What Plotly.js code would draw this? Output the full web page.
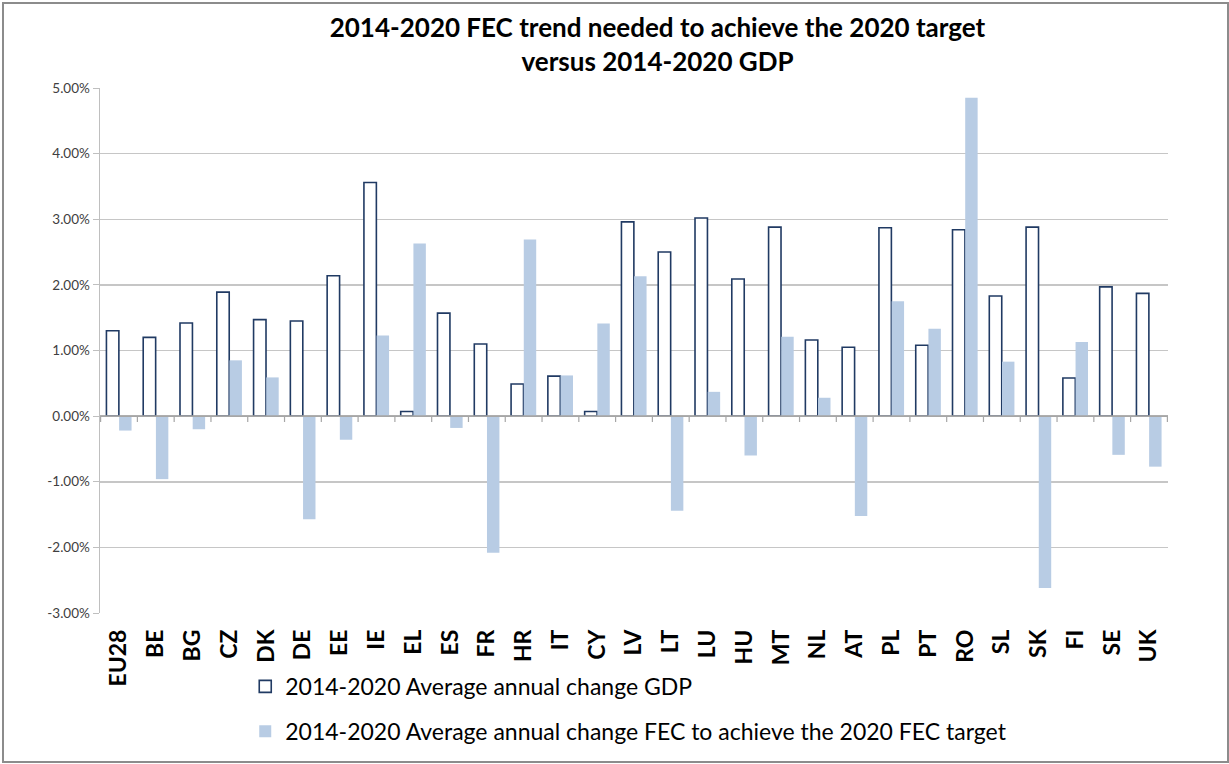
<!DOCTYPE html>
<html>
<head>
<meta charset="utf-8">
<script src="https://cdn.plot.ly/plotly-3.0.1.min.js"></script>
<style>
  html, body { margin: 0; padding: 0; background: #ffffff; }
  #frame { position: absolute; left: 2px; top: 2px; width: 1223px; height: 757px; border: 2px solid #8c8c8c; }
  #chart { position: absolute; left: 0; top: 0; width: 1229px; height: 764px; }
</style>
</head>
<body>
<div id="chart"></div>
<div id="frame"></div>
<script>
const categories = ['EU28','BE','BG','CZ','DK','DE','EE','IE','EL','ES','FR','HR','IT','CY','LV','LT','LU','HU','MT','NL','AT','PL','PT','RO','SL','SK','FI','SE','UK'];
const gdpChange = [1.30,1.20,1.42,1.89,1.47,1.45,2.14,3.56,0.07,1.57,1.10,0.49,0.61,0.07,2.96,2.50,3.02,2.09,2.88,1.16,1.05,2.87,1.08,2.84,1.83,2.88,0.58,1.97,1.87];
const fecChange = [-0.22,-0.96,-0.20,0.85,0.59,-1.57,-0.36,1.23,2.63,-0.18,-2.08,2.69,0.62,1.41,2.13,-1.44,0.37,-0.60,1.21,0.28,-1.52,1.75,1.33,4.85,0.83,-2.62,1.13,-0.59,-0.77];
const seriesNames = ['2014-2020 Average annual change GDP','2014-2020 Average annual change FEC to achieve the 2020 FEC target'];
const yTicks = [-3,-2,-1,0,1,2,3,4,5];
const yTickText = yTicks.map(v => v.toFixed(2) + '%');

const FONT = 'Lato, "Open Sans", "Liberation Sans", sans-serif';

const traces = [
  {
    type: 'bar', name: seriesNames[0], x: categories, y: gdpChange, legendgroup: 'g1',
    marker: { color: '#ffffff', line: { color: '#203a63', width: 1.6 } },
    hoverinfo: 'x+y'
  },
  {
    type: 'bar', name: seriesNames[1], x: categories, y: fecChange, legendgroup: 'g2',
    marker: { color: '#b8cce4', line: { width: 0 } },
    hoverinfo: 'x+y'
  }
];

// small tick marks between categories on the zero line (Excel-style axis)
const shapes = [];
for (let i = 0; i <= categories.length; i++) {
  shapes.push({
    type: 'line', xref: 'x', yref: 'y',
    x0: i - 0.5, x1: i - 0.5, y0: 0, y1: -0.09,
    line: { color: '#a6a6a6', width: 1.2 }
  });
}
shapes.push({
  type: 'line', xref: 'paper', yref: 'y', x0: 0, x1: 1, y0: 0, y1: 0,
  line: { color: '#a6a6a6', width: 1.6 }, layer: 'above'
});

const layout = {
  width: 1229, height: 764,
  margin: { l: 100, r: 61, t: 88, b: 151, autoexpand: false },
  paper_bgcolor: '#ffffff', plot_bgcolor: '#ffffff',
  font: { family: FONT, color: '#000000' },
  title: {
    text: '<b>2014-2020 FEC trend needed to achieve the 2020 target<br>versus 2014-2020 GDP</b>',
    x: 0.535, xref: 'container', xanchor: 'center',
    y: 0.951, yref: 'container', yanchor: 'top',
    font: { family: FONT, size: 26, color: '#000000' }
  },
  barmode: 'group', bargap: 0.31, bargroupgap: 0.02,
  xaxis: {
    type: 'category', tickangle: -90, automargin: false,
    tickfont: { family: FONT, size: 23, color: '#000000', weight: 'bold' },
    showgrid: false, ticks: '', showline: false, zeroline: false,
    ticklabelstandoff: 11
  },
  yaxis: {
    range: [-3, 5], tickmode: 'array', tickvals: yTicks, ticktext: yTickText, automargin: false,
    tickfont: { family: FONT, size: 13.5, color: '#404040' },
    showgrid: true, gridcolor: '#c6c6c6', gridwidth: 1.5,
    zeroline: false, showline: true, linecolor: '#bfbfbf', linewidth: 1.5,
    ticks: 'outside', ticklen: 6, tickcolor: '#bfbfbf'
  },
  showlegend: true,
  legend: {
    orientation: 'v', x: 0.136, xanchor: 'left', y: -0.099, yanchor: 'top',
    font: { family: FONT, size: 23, color: '#000000' },
    tracegroupgap: 12, itemwidth: 30, bgcolor: 'rgba(0,0,0,0)'
  },
  shapes: shapes
};

Plotly.newPlot('chart', traces, layout, { displayModeBar: false, staticPlot: true });
</script>
</body>
</html>
